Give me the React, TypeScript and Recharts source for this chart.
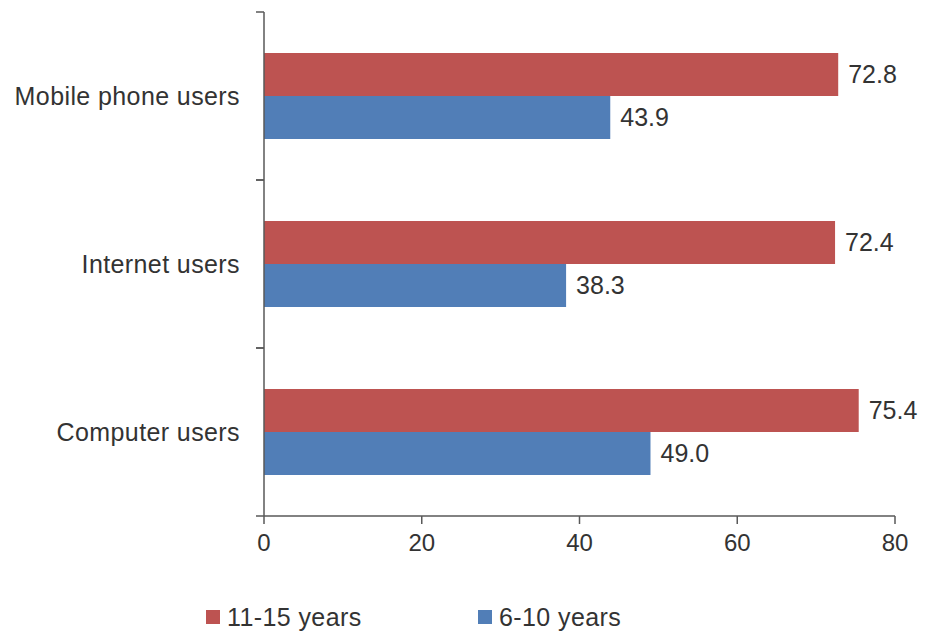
import React from "react";
import { BarChart, Bar, XAxis, YAxis, Legend, LabelList } from "recharts";

const categories = ["Mobile phone users", "Internet users", "Computer users"];
const olderKids = [72.8, 72.4, 75.4];
const youngerKids = [43.9, 38.3, 49.0];
const xTicks = [0, 20, 40, 60, 80];

const data = categories.map((name, i) => ({
  name,
  older: olderKids[i],
  younger: youngerKids[i],
}));

const RED = "#BD5351";
const BLUE = "#517EB7";
const TEXT = "#333333";
const AXIS = "#595959";
const FONT = "'Liberation Sans', Arial, sans-serif";

const TICK_SIZE = 8;
const TICK_MARGIN = 16;

function CategoryTick(props: any) {
  const { x, y, payload } = props;
  const axisX = x + TICK_MARGIN + TICK_SIZE;
  const half = payload.offset || 0;
  return (
    <g>
      <line x1={axisX - TICK_SIZE} x2={axisX} y1={y - half} y2={y - half} stroke={AXIS} strokeWidth={1.5} />
      <line x1={axisX - TICK_SIZE} x2={axisX} y1={y + half} y2={y + half} stroke={AXIS} strokeWidth={1.5} />
      <text x={x} y={y} dy="0.35em" textAnchor="end" fill={TEXT} fontSize={25} letterSpacing={0.4} fontFamily={FONT}>
        {payload.value}
      </text>
    </g>
  );
}

const legendLeft = [206, 478];

function LegendContent(props: any) {
  const items = props.payload || [];
  return (
    <div style={{ position: "relative", width: 926, height: 30 }}>
      {items.map((entry: any, i: number) => (
        <div
          key={entry.value}
          style={{
            position: "absolute",
            left: legendLeft[i],
            top: 0,
            display: "flex",
            alignItems: "center",
            height: 30,
            fontFamily: FONT,
            fontSize: 25,
            letterSpacing: 0.4,
            color: TEXT,
            whiteSpace: "nowrap",
          }}
        >
          <span style={{ display: "inline-block", width: 14, height: 14, background: entry.color, marginRight: 7 }} />
          {entry.value}
        </div>
      ))}
    </div>
  );
}

export default function App() {
  return (
    <div style={{ position: "absolute", left: 0, top: 0, width: 926, height: 637, background: "#fff" }}>
      <BarChart
        width={926}
        height={637}
        data={data}
        layout="vertical"
        margin={{ top: 12, right: 31, left: 0, bottom: 81 }}
        barCategoryGap={41}
        barGap={0}
      >
        <XAxis
          type="number"
          domain={[0, 80]}
          ticks={xTicks}
          height={40}
          stroke={AXIS}
          strokeWidth={1.5}
          tickSize={8}
          tickMargin={10}
          tick={{ fill: TEXT, fontSize: 24, fontFamily: FONT }}
        />
        <YAxis
          type="category"
          dataKey="name"
          width={264}
          stroke={AXIS}
          strokeWidth={1.5}
          tickLine={false}
          tickSize={TICK_SIZE}
          tickMargin={TICK_MARGIN}
          tick={<CategoryTick />}
        />
        <Legend
          layout="horizontal"
          verticalAlign="middle"
          align="center"
          content={<LegendContent />}
          wrapperStyle={{ position: "absolute", left: 0, top: 602, width: 926 }}
        />
        <Bar dataKey="older" name="11-15 years" fill={RED} isAnimationActive={false}>
          <LabelList dataKey="older" position="right" offset={10} fill={TEXT} fontSize={25} fontFamily={FONT} formatter={(v: any) => Number(v).toFixed(1)} />
        </Bar>
        <Bar dataKey="younger" name="6-10 years" fill={BLUE} isAnimationActive={false}>
          <LabelList dataKey="younger" position="right" offset={10} fill={TEXT} fontSize={25} fontFamily={FONT} formatter={(v: any) => Number(v).toFixed(1)} />
        </Bar>
      </BarChart>
    </div>
  );
}
